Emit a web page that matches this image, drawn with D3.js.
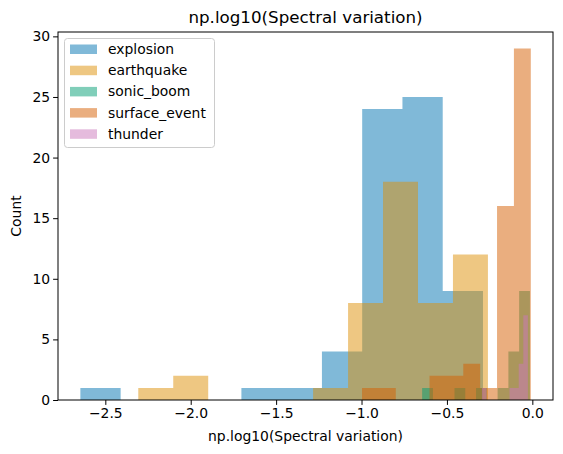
<!DOCTYPE html>
<html>
<head>
<meta charset="utf-8">
<script src="https://cdn.jsdelivr.net/npm/d3@7"></script>
<style>
body { margin: 0; background: #fff; }
text { font-family: "DejaVu Sans", sans-serif; fill: #000; }
</style>
</head>
<body>
<svg width="563" height="454"></svg>
<script>
// each series: first bin edge, bin width, counts (10 bins)
const names = ['explosion', 'earthquake', 'sonic_boom', 'surface_event', 'thunder'];
const colors = ['#0173B2', '#DE8F05', '#029E73', '#D55E00', '#CC78BC'];
const starts = [-2.646, -2.307, -0.645, -0.997, -0.295];
const widths = [0.2357, 0.2047, 0.0631, 0.0988, 0.0269];
const explosion = [1, 0, 0, 0, 1, 1, 4, 24, 25, 9];
const earthquake = [1, 2, 0, 0, 0, 1, 8, 18, 8, 12];
const sonicBoom = [1, 0, 0, 1, 0, 1, 0, 1, 4, 9];
const surfaceEvent = [1, 1, 0, 0, 2, 2, 3, 1, 16, 29];
const thunder = [1, 0, 0, 0, 0, 0, 1, 1, 3, 7];
const counts = [explosion, earthquake, sonicBoom, surfaceEvent, thunder];
const xTicks = [-2.5, -2.0, -1.5, -1.0, -0.5, 0.0];
const yTicks = [0, 5, 10, 15, 20, 25, 30];

const svg = d3.select('svg');
const m = {l: 58, r: 553, t: 32, b: 400};

const x = d3.scaleLinear().domain([-2.777, 0.121]).range([m.l, m.r]);
const y = d3.scaleLinear().domain([0, 30.36]).range([m.b, m.t]);

names.forEach((n, s) => {
    // one path per series so adjacent bins have no seams
    const bins = counts[s].map((c, i) => ({c, x0: starts[s] + i * widths[s], x1: starts[s] + (i + 1) * widths[s]}));
    const p = d3.path();
    p.moveTo(x(bins[0].x0), y(0));
    bins.forEach(d => { p.lineTo(x(d.x0), y(d.c)); p.lineTo(x(d.x1), y(d.c)); });
    p.lineTo(x(bins[bins.length - 1].x1), y(0));
    p.closePath();
    svg.append('path')
        .attr('d', p.toString())
        .attr('fill', colors[s])
        .attr('fill-opacity', 0.5);
});

svg.append('g')
    .attr('transform', `translate(0,${m.b})`)
    .call(d3.axisBottom(x).tickValues(xTicks).tickFormat(d3.format('.1f')).tickSizeOuter(0).tickSize(4.9).tickPadding(3))
    .call(g => g.select('.domain').remove())
    .selectAll('text').attr('font-size', 13.9);

svg.append('g')
    .attr('transform', `translate(${m.l},0)`)
    .call(d3.axisLeft(y).tickValues(yTicks).tickSizeOuter(0).tickSize(4.9).tickPadding(3))
    .call(g => g.select('.domain').remove())
    .selectAll('text').attr('font-size', 13.9);

svg.append('rect')
    .attr('x', m.l).attr('y', m.t)
    .attr('width', m.r - m.l).attr('height', m.b - m.t)
    .attr('fill', 'none').attr('stroke', '#000').attr('stroke-width', 1);

svg.append('text').attr('x', (m.l + m.r) / 2).attr('y', 23)
    .attr('text-anchor', 'middle').attr('font-size', 16.7)
    .text('np.log10(Spectral variation)');
svg.append('text').attr('x', (m.l + m.r) / 2).attr('y', 441)
    .attr('text-anchor', 'middle').attr('font-size', 13.9)
    .text('np.log10(Spectral variation)');
svg.append('text').attr('transform', `translate(21,${(m.t + m.b) / 2}) rotate(-90)`)
    .attr('text-anchor', 'middle').attr('font-size', 13.9)
    .text('Count');

const legend = svg.append('g');
legend.append('rect')
    .attr('x', 64.5).attr('y', 38.5).attr('width', 150).attr('height', 109).attr('rx', 3)
    .attr('fill', '#fff').attr('fill-opacity', 0.8).attr('stroke', '#ccc');
legend.selectAll('g.item')
    .data(names)
    .join('g')
    .attr('class', 'item')
    .attr('transform', (d, i) => `translate(0,${49 + i * 21.2})`)
    .each(function(d, i) {
        const g = d3.select(this);
        g.append('rect').attr('x', 70).attr('y', -4.5).attr('width', 27).attr('height', 9.5)
            .attr('fill', colors[i]).attr('fill-opacity', 0.5);
        g.append('text').attr('x', 108).attr('y', 5).attr('font-size', 13.9).text(d);
    });
</script>
</body>
</html>
